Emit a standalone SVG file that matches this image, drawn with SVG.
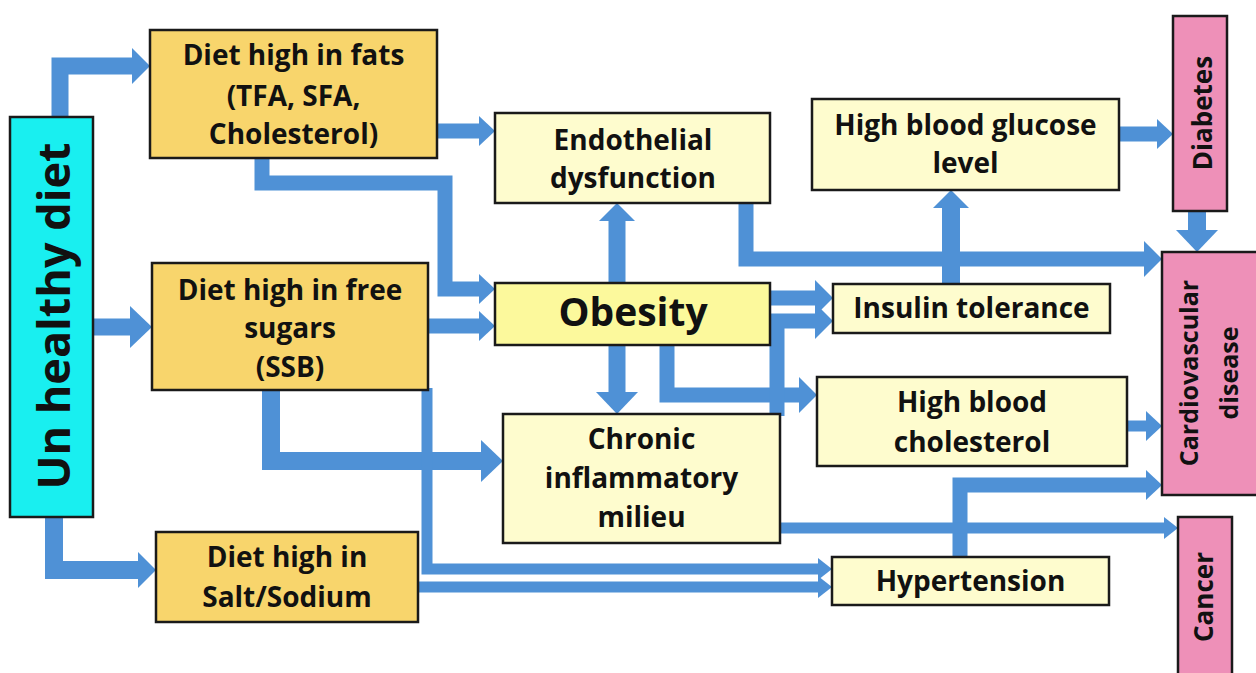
<svg xmlns="http://www.w3.org/2000/svg" width="1256" height="673" viewBox="0 0 1256 673">
<style>
.bx{stroke:#1a1a1a;stroke-width:2.5}
.gold{fill:#F8D56C}
.pale{fill:#FEFCCE}
.ob{fill:#FCF99C}
.cy{fill:#19EFF0}
.pk{fill:#EE90B8}
.t{font-family:"Open Sans","Liberation Sans",sans-serif;font-weight:700;fill:#111;text-anchor:middle;font-size:28px}
.c{fill:none;stroke:#4F91D6;stroke-linejoin:miter;stroke-linecap:butt}
.w18{stroke-width:18}
.w17{stroke-width:17}
.w15{stroke-width:15}
.w11{stroke-width:11}
</style>
<defs>
<marker id="hA" markerUnits="userSpaceOnUse" markerWidth="18" markerHeight="36" refX="0" refY="18" orient="auto" overflow="visible"><path d="M0,0 L18,18 L0,36 Z" fill="#4F91D6"/></marker>
<marker id="hB" markerUnits="userSpaceOnUse" markerWidth="22" markerHeight="42" refX="0" refY="21" orient="auto" overflow="visible"><path d="M0,0 L22,21 L0,42 Z" fill="#4F91D6"/></marker>
<marker id="hC" markerUnits="userSpaceOnUse" markerWidth="16" markerHeight="30" refX="0" refY="15" orient="auto" overflow="visible"><path d="M0,0 L16,15 L0,30 Z" fill="#4F91D6"/></marker>
<marker id="hD" markerUnits="userSpaceOnUse" markerWidth="14" markerHeight="22" refX="0" refY="11" orient="auto" overflow="visible"><path d="M0,0 L14,11 L0,22 Z" fill="#4F91D6"/></marker>
</defs>
<rect width="1256" height="673" fill="#fff"/>
<g id="connectors">
<path class="c w17" d="M60,120 V66 H132" marker-end="url(#hA)"/>
<path class="c w17" d="M90,327 H130" marker-end="url(#hB)"/>
<path class="c w18" d="M54,515 V570 H138" marker-end="url(#hA)"/>
<path class="c w15" d="M435,131 H479" marker-end="url(#hC)"/>
<path class="c w15" d="M262,156 V183 H445 V289 H479" marker-end="url(#hC)"/>
<path class="c w15" d="M426,326 H479" marker-end="url(#hC)"/>
<path class="c w18" d="M271,388 V461 H481" marker-end="url(#hB)"/>
<path class="c w11" d="M427,388 V569 H818" marker-end="url(#hD)"/>
<path class="c w11" d="M416,587 H818" marker-end="url(#hD)"/>
<path class="c w17" d="M617,285 V221" marker-end="url(#hA)"/>
<path class="c w17" d="M617,343 V392" marker-end="url(#hB)"/>
<path class="c w15" d="M768,298 H815" marker-end="url(#hA)"/>
<path class="c w15" d="M667,343 V395 H799" marker-end="url(#hA)"/>
<path class="c w15" d="M777,416 V321 H815" marker-end="url(#hA)"/>
<path class="c w15" d="M746,201 V259 H1144" marker-end="url(#hA)"/>
<path class="c w18" d="M951,286 V208" marker-end="url(#hA)"/>
<path class="c w15" d="M1117,134 H1157" marker-end="url(#hC)"/>
<path class="c w18" d="M1197,209 V230" marker-end="url(#hB)"/>
<path class="c w11" d="M1125,426 H1146" marker-end="url(#hC)"/>
<path class="c w15" d="M960,559 V485 H1146" marker-end="url(#hC)"/>
<path class="c w11" d="M778,528 H1164" marker-end="url(#hD)"/>
</g>
<g id="unhealthy"><rect class="bx cy" x="10" y="117" width="83" height="400"/><text class="t" font-size="45" style="font-size:45px" transform="translate(70,316) rotate(-90)">Un healthy diet</text></g>
<g id="fats"><rect class="bx gold" x="150" y="30" width="287" height="128"/><text class="t" x="293.5" y="65">Diet high in fats</text><text class="t" x="293.5" y="106">(TFA, SFA,</text><text class="t" x="293.5" y="144">Cholesterol)</text></g>
<g id="sugars"><rect class="bx gold" x="152" y="263" width="276" height="127"/><text class="t" x="290" y="300">Diet high in free</text><text class="t" x="290" y="338">sugars</text><text class="t" x="290" y="377">(SSB)</text></g>
<g id="salt"><rect class="bx gold" x="156" y="532" width="262" height="90"/><text class="t" x="287" y="567">Diet high in</text><text class="t" x="287" y="607">Salt/Sodium</text></g>
<g id="endothelial"><rect class="bx pale" x="495" y="113" width="275" height="90"/><text class="t" x="633" y="150">Endothelial</text><text class="t" x="633" y="188">dysfunction</text></g>
<g id="obesity"><rect class="bx ob" x="495" y="283" width="275" height="62"/><text class="t" x="633" y="326" style="font-size:39px">Obesity</text></g>
<g id="chronic"><rect class="bx pale" x="503" y="414" width="277" height="129"/><text class="t" x="641.5" y="449">Chronic</text><text class="t" x="641.5" y="488">inflammatory</text><text class="t" x="641.5" y="527">milieu</text></g>
<g id="glucose"><rect class="bx pale" x="812" y="99" width="307" height="91"/><text class="t" x="965.5" y="135">High blood glucose</text><text class="t" x="965.5" y="173">level</text></g>
<g id="insulin"><rect class="bx pale" x="833" y="284" width="277" height="49"/><text class="t" x="971.5" y="318">Insulin tolerance</text></g>
<g id="cholesterol"><rect class="bx pale" x="817" y="377" width="310" height="89"/><text class="t" x="972" y="412">High blood</text><text class="t" x="972" y="452">cholesterol</text></g>
<g id="hypertension"><rect class="bx pale" x="832" y="557" width="277" height="48"/><text class="t" x="970.5" y="591">Hypertension</text></g>
<g id="diabetes"><rect class="bx pk" x="1173" y="16" width="54" height="195"/><text class="t" style="font-size:26px" transform="translate(1212,113) rotate(-90)">Diabetes</text></g>
<g id="cvd"><rect class="bx pk" x="1162" y="252" width="100" height="243"/><text class="t" style="font-size:25px" transform="translate(1198,373) rotate(-90)">Cardiovascular</text><text class="t" style="font-size:25px" transform="translate(1238,373) rotate(-90)">disease</text></g>
<g id="cancer"><rect class="bx pk" x="1178" y="517" width="54" height="170"/><text class="t" style="font-size:26px" transform="translate(1213,597) rotate(-90)">Cancer</text></g>
</svg>
